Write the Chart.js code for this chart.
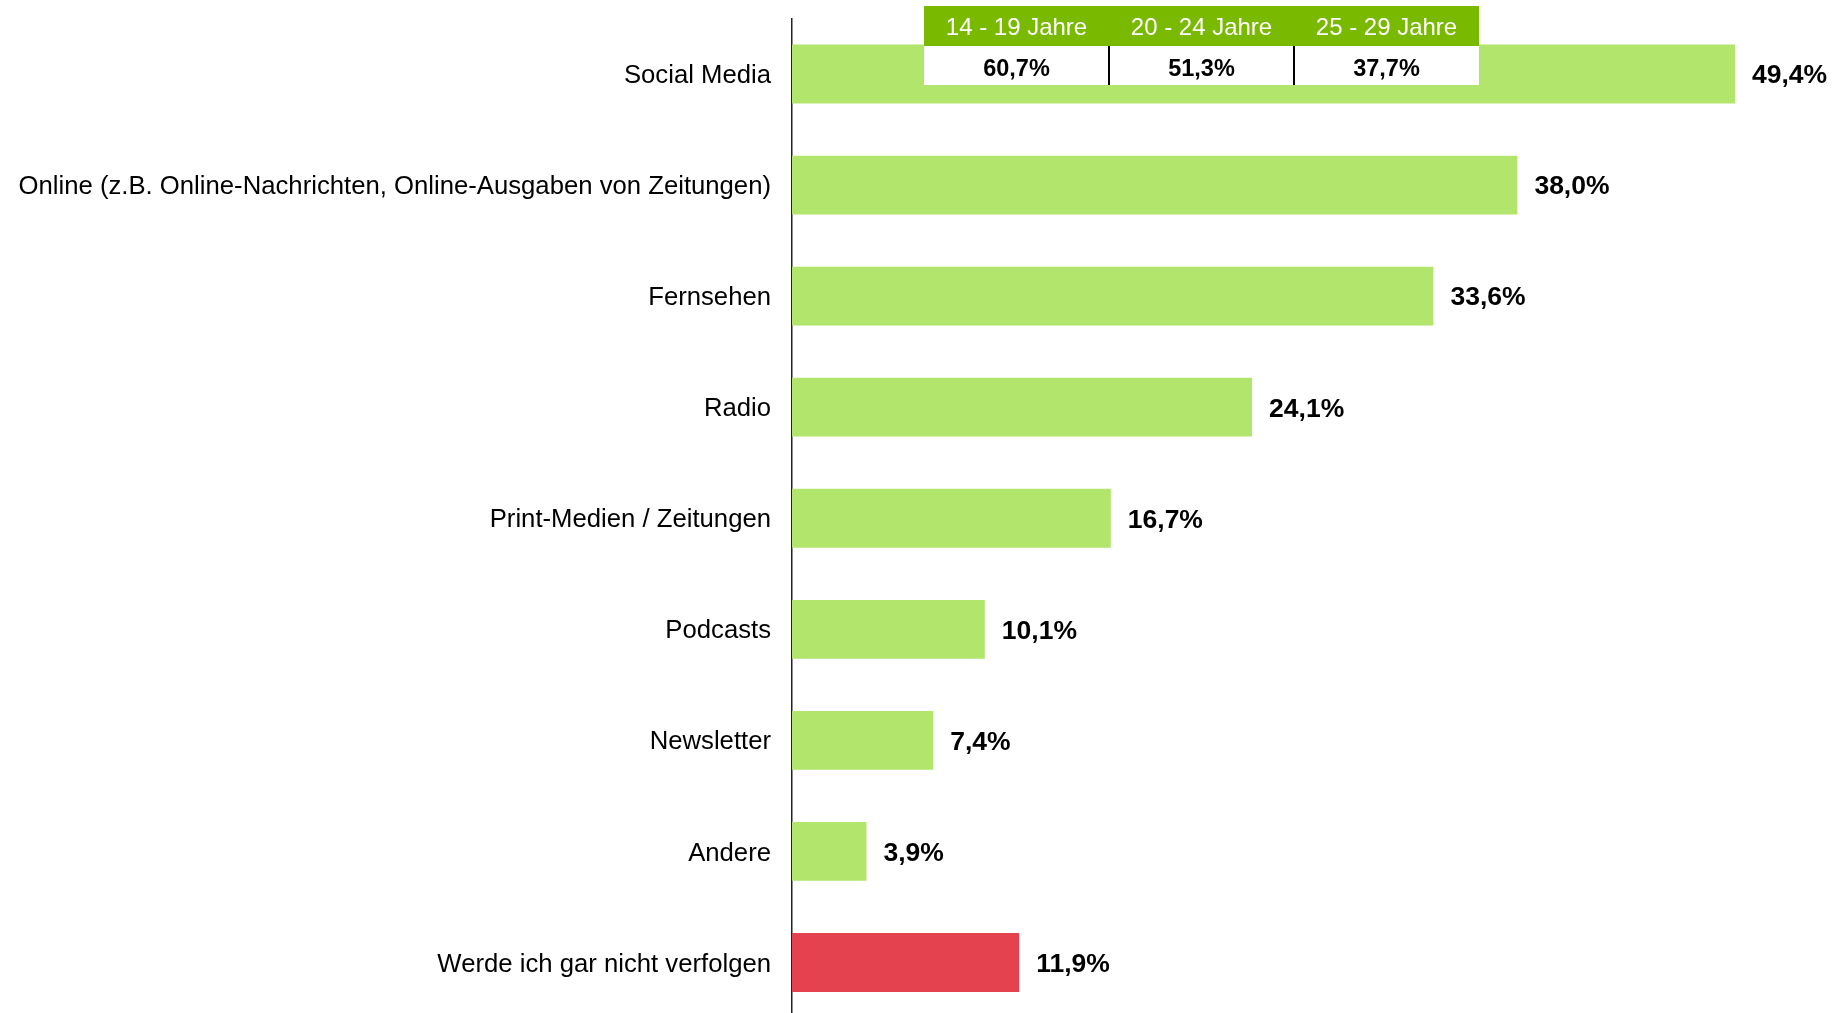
<!DOCTYPE html>
<html>
<head>
<meta charset="utf-8">
<script src="https://cdn.jsdelivr.net/npm/chart.js@4.4.1/dist/chart.umd.min.js"></script>
<style>
  html, body { margin: 0; padding: 0; background: #fff; overflow: hidden; }
  #wrap { position: absolute; left: 0; top: 0; width: 1840px; height: 1018px; }
</style>
</head>
<body>
<div id="wrap"><canvas id="chart"></canvas></div>
<script>
const categories = [
  "Social Media",
  "Online (z.B. Online-Nachrichten, Online-Ausgaben von Zeitungen)",
  "Fernsehen",
  "Radio",
  "Print-Medien / Zeitungen",
  "Podcasts",
  "Newsletter",
  "Andere",
  "Werde ich gar nicht verfolgen"
];
const values = [49.4, 38.0, 33.6, 24.1, 16.7, 10.1, 7.4, 3.9, 11.9];
const barColors = ["#b2e56b", "#b2e56b", "#b2e56b", "#b2e56b", "#b2e56b", "#b2e56b", "#b2e56b", "#b2e56b", "#e4424f"];

// Social Media share by age group (box over the first bar)
const ageGroups = ["14 - 19 Jahre", "20 - 24 Jahre", "25 - 29 Jahre"];
const ageValues = [60.7, 51.3, 37.7];

const FONT = "'Liberation Sans', Arial, sans-serif";

function pct(v) {
  return v.toFixed(1).replace(".", ",") + "%";
}

const valueLabels = {
  id: "valueLabels",
  afterDatasetsDraw(chart) {
    const ctx = chart.ctx;
    const meta = chart.getDatasetMeta(0);
    ctx.save();
    ctx.font = "bold 26.5px " + FONT;
    ctx.fillStyle = "#000";
    ctx.textAlign = "left";
    ctx.textBaseline = "middle";
    meta.data.forEach((bar, i) => {
      ctx.fillText(pct(values[i]), bar.x + 17, bar.y + 2);
    });
    ctx.restore();
  }
};

const ageTable = {
  id: "ageTable",
  afterDraw(chart) {
    const ctx = chart.ctx;
    const left = 924, top = 6, colW = 185, headH = 40, rowH = 39;
    ctx.save();
    ctx.fillStyle = "#79b900";
    ctx.fillRect(left, top, colW * ageGroups.length, headH);
    ctx.fillStyle = "#fff";
    ctx.fillRect(left, top + headH, colW * ageGroups.length, rowH);
    ctx.textAlign = "center";
    ctx.textBaseline = "middle";
    ageGroups.forEach((g, i) => {
      const cx = left + colW * i + colW / 2;
      ctx.font = "24px " + FONT;
      ctx.fillStyle = "#fff";
      ctx.fillText(g, cx, top + headH / 2 + 2);
      ctx.font = "bold 23.5px " + FONT;
      ctx.fillStyle = "#000";
      ctx.fillText(pct(ageValues[i]), cx, top + headH + rowH / 2 + 4);
    });
    ctx.strokeStyle = "#000";
    ctx.lineWidth = 2;
    for (let i = 1; i < ageGroups.length; i++) {
      const x = left + colW * i;
      ctx.beginPath();
      ctx.moveTo(x, top + headH);
      ctx.lineTo(x, top + headH + rowH);
      ctx.stroke();
    }
    ctx.restore();
  }
};

new Chart(document.getElementById("chart"), {
  type: "bar",
  data: {
    labels: categories,
    datasets: [{
      data: values,
      backgroundColor: barColors,
      borderWidth: 0,
      categoryPercentage: 1,
      barPercentage: 0.53
    }]
  },
  options: {
    indexAxis: "y",
    responsive: true,
    maintainAspectRatio: false,
    animation: false,
    layout: { padding: { top: 18.5, right: 0, bottom: 0, left: 0 } },
    plugins: {
      legend: { display: false },
      tooltip: { enabled: false }
    },
    scales: {
      x: { display: false, min: 0, max: 54.9 },
      y: {
        afterFit: (scale) => {
          scale.width = 792;
          scale.paddingTop = 0;
          scale.paddingBottom = 0;
        },
        grid: { display: false, drawTicks: false },
        border: { display: true, color: "#222", width: 1.5 },
        ticks: {
          color: "#000",
          padding: 21,
          labelOffset: 2,
          font: { family: FONT, size: 25.7 }
        }
      }
    }
  },
  plugins: [valueLabels, ageTable]
});
</script>
</body>
</html>
